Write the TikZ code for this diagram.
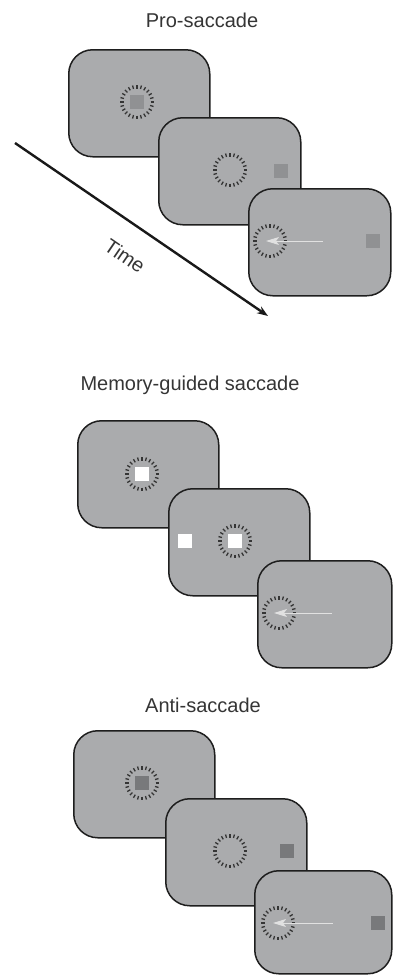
\documentclass[tikz,border=0pt]{standalone}
\usepackage{fontspec}
\setmainfont{Liberation Sans}
\usetikzlibrary{arrows.meta}

\definecolor{panelgray}{RGB}{170,171,173}
\definecolor{fixgray}{RGB}{144,145,147}
\definecolor{antigray}{RGB}{120,121,123}
\definecolor{edgegray}{RGB}{30,30,30}
\definecolor{arrowgray}{RGB}{225,225,225}

\tikzset{
  panel/.style={draw=edgegray, fill=panelgray, line width=1.5pt,
    rounded corners=24pt, anchor=north west, inner sep=0pt,
    minimum height=107pt},
  sqr/.style={inner sep=0pt, minimum size=14pt},
  ticks/.style={draw=edgegray!90, line width=1.3pt},
  title/.style={font=\fontsize{20}{24}\selectfont, text=edgegray!90},
  saccade/.style={draw=arrowgray, line width=1pt,
    -{Stealth[length=13pt,width=8pt,inset=3pt,fill=arrowgray]}},
  timearrow/.style={draw=black!90, line width=2.4pt,
    -{Stealth[length=11pt,width=8pt]}}
}

% dashed fixation ring made of short radial strokes
\newcommand\fixring[1]{%
  \foreach \a in {0,15,...,345}
    \draw[ticks] (#1) ++(\a:13.5) -- ++(\a:3.6);%
}

\begin{document}
\begin{tikzpicture}[x=1pt, y=-1pt]
\useasboundingbox (0,0) rectangle (392,975);

% ---------------- Pro-saccade ----------------
\node[title] (tpro) at (202,20) {Pro-saccade};

\node[panel, minimum width=141pt] (p1) at (68,49) {};
\coordinate (p1c) at (137,102);
\node[sqr, fill=fixgray] (p1s) at (p1c) {};
\fixring{p1c}

\node[panel, minimum width=142pt] (p2) at (158,117) {};
\coordinate (p2c) at (230,170);
\fixring{p2c}
\node[sqr, fill=fixgray] (p2t) at (281,171) {};

\node[panel, minimum width=142pt] (p3) at (248,188) {};
\coordinate (p3c) at (270,241);
\coordinate (p3tail) at (323,241);
\coordinate (p3tip) at (266,241);
\fixring{p3c}
\node[sqr, fill=fixgray] (p3t) at (373,241) {};
\draw[saccade] (p3tail) -- (p3tip);

% time axis
\coordinate (tstart) at (15,143);
\coordinate (tend) at (268,316);
\draw[timearrow] (tstart) -- (tend);
\node[title, rotate=-34.4] (ttime) at (125,256) {Time};

% ---------------- Memory-guided saccade ----------------
\node[title] (tmem) at (190,385) {Memory-guided saccade};

\node[panel, minimum width=141pt] (m1) at (77,420) {};
\coordinate (m1c) at (142,474);
\node[sqr, fill=white] (m1s) at (m1c) {};
\fixring{m1c}

\node[panel, minimum width=141pt] (m2) at (168,488) {};
\coordinate (m2c) at (235,541);
\node[sqr, fill=white] (m2s) at (m2c) {};
\fixring{m2c}
\node[sqr, fill=white] (m2t) at (185,541) {};

\node[panel, minimum width=134pt] (m3) at (257,560) {};
\coordinate (m3c) at (279,613);
\coordinate (m3tail) at (332,613);
\coordinate (m3tip) at (274,613);
\fixring{m3c}
\draw[saccade] (m3tail) -- (m3tip);

% ---------------- Anti-saccade ----------------
\node[title] (tanti) at (203,705) {Anti-saccade};

\node[panel, minimum width=141pt] (a1) at (73,730) {};
\coordinate (a1c) at (142,783);
\node[sqr, fill=antigray] (a1s) at (a1c) {};
\fixring{a1c}

\node[panel, minimum width=141pt] (a2) at (165,798) {};
\coordinate (a2c) at (230,851);
\fixring{a2c}
\node[sqr, fill=antigray] (a2t) at (287,851) {};

\node[panel, minimum width=137pt, minimum height=103pt] (a3) at (254,870) {};
\coordinate (a3c) at (278,923);
\coordinate (a3tail) at (333,923);
\coordinate (a3tip) at (273,923);
\fixring{a3c}
\node[sqr, fill=antigray] (a3t) at (378,923) {};
\draw[saccade] (a3tail) -- (a3tip);
\end{tikzpicture}
\end{document}
